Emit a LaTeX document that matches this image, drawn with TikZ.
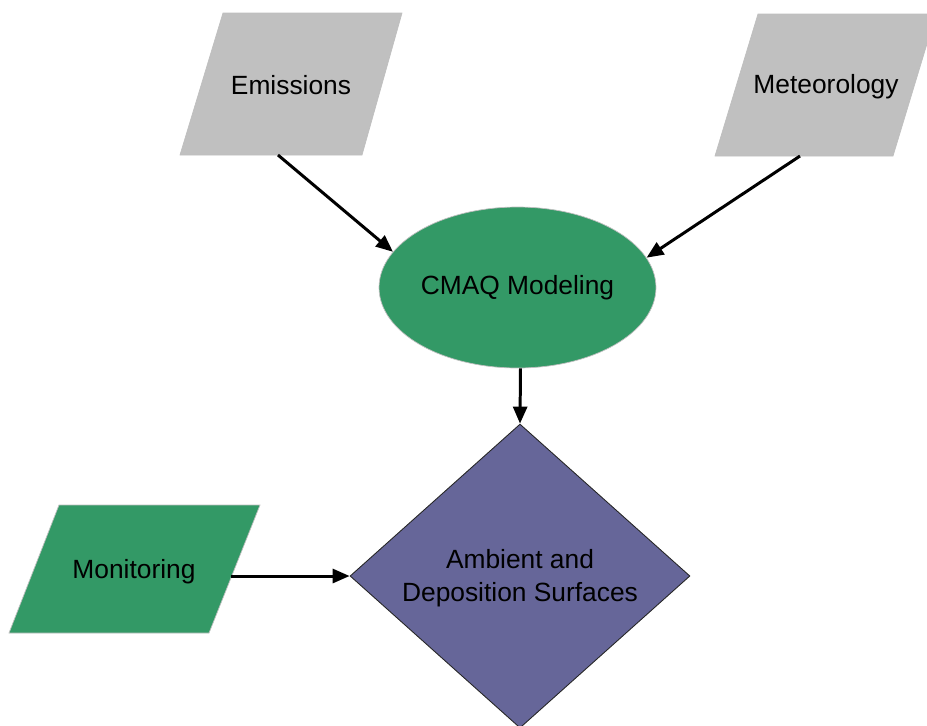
\documentclass[tikz,border=0pt]{standalone}
\usepackage{fontspec}
\setmainfont{Liberation Sans}
\usetikzlibrary{shapes.geometric,arrows.meta}
\definecolor{boxgray}{HTML}{C0C0C0}
\definecolor{modgreen}{HTML}{339966}
\definecolor{surfpurple}{HTML}{666699}
\begin{document}
\begin{tikzpicture}[x=0.02cm,y=-0.02cm,
                datain/.style={draw=black!25,line width=0.4pt},
                lbl/.style={inner sep=0pt,font=\fontsize{15}{19}\selectfont},
                link/.style={line width=1.7pt,-{Triangle[length=0.34cm,width=0.28cm]}}]
                \useasboundingbox (0,0) rectangle (927,725);
                \draw[datain,fill=boxgray] (223,13) -- (402,13) -- (362,155) -- (180,155) -- cycle;
                \node[lbl] (emis) at (291,85) {Emissions};
                \coordinate (emisout) at (278,155);
                \draw[datain,fill=boxgray] (758,14) -- (936,14) -- (893,156) -- (715,156) -- cycle;
                \node[lbl] (meteo) at (826,87) {Meteorology};
                \coordinate (meteoout) at (800,156);
                \draw[datain,fill=modgreen] (59,505) -- (260,505) -- (209,633) -- (9,633) -- cycle;
                \node[lbl] (monit) at (134,572) {Monitoring};
                \coordinate (monitout) at (231,576);
                \node[ellipse,fill=modgreen,draw=black!25,line width=0.4pt,inner sep=0pt,
                      minimum width=5.54cm,minimum height=3.22cm,
                      font=\fontsize{15}{19}\selectfont] (cmaq) at (517.5,287.5) {CMAQ Modeling};
                \node[diamond,fill=surfpurple,draw=black!85,line width=0.5pt,inner sep=0pt,
                      minimum width=6.8cm,minimum height=6.08cm] (surf) at (520,576) {};
                \node[lbl,align=center] (surftxt) at (520,578) {Ambient and\\Deposition Surfaces};
                \draw[link] (emisout) -- (cmaq.164);
                \draw[link] (meteoout) -- (cmaq.13);
                \draw[link] ([xshift=0.06cm]cmaq.south) -- (surf.north);
                \draw[link] (monitout) -- (surf.west);
            \end{tikzpicture}
\end{document}
